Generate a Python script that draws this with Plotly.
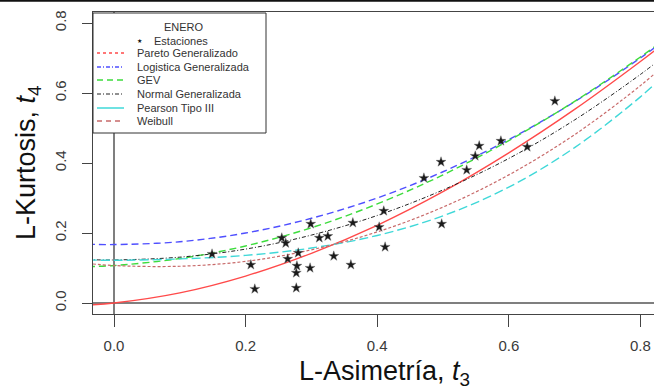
import plotly.graph_objects as go

# ---- data ----
t3_grid = [-0.04, 0.0, 0.1, 0.2, 0.3, 0.4, 0.5, 0.6, 0.7, 0.8, 0.84]
pareto = [-0.006, 0.000, 0.029, 0.077, 0.142, 0.222, 0.318, 0.429, 0.553, 0.690, 0.748]
logistica = [0.168, 0.167, 0.175, 0.200, 0.242, 0.300, 0.375, 0.467, 0.575, 0.700, 0.755]
gev = [0.104, 0.107, 0.127, 0.163, 0.215, 0.283, 0.366, 0.464, 0.576, 0.703, 0.758]
normal = [0.124, 0.123, 0.131, 0.154, 0.194, 0.250, 0.323, 0.413, 0.523, 0.653, 0.711]
pearson = [0.123, 0.122, 0.126, 0.136, 0.157, 0.193, 0.249, 0.331, 0.444, 0.589, 0.658]
weibull = [0.113, 0.107, 0.105, 0.119, 0.152, 0.203, 0.274, 0.366, 0.481, 0.621, 0.686]

est_t3 = [0.149, 0.208, 0.214, 0.255, 0.261, 0.264, 0.280, 0.278, 0.277, 0.277,
          0.299, 0.298, 0.312, 0.325, 0.334, 0.360, 0.363, 0.403, 0.410, 0.412,
          0.471, 0.497, 0.498, 0.536, 0.549, 0.555, 0.588, 0.628, 0.670]
est_t4 = [0.140, 0.109, 0.040, 0.186, 0.171, 0.126, 0.143, 0.106, 0.086, 0.043,
          0.226, 0.100, 0.186, 0.191, 0.134, 0.109, 0.229, 0.217, 0.263, 0.160,
          0.357, 0.403, 0.226, 0.380, 0.420, 0.449, 0.463, 0.446, 0.577]

x_ticks = [0.0, 0.2, 0.4, 0.6, 0.8]
y_ticks = [0.0, 0.2, 0.4, 0.6, 0.8]

legend_title = "ENERO"
legend_names = ["Pareto Generalizado", "Logistica Generalizada", "GEV",
                "Normal Generalizada", "Pearson Tipo III", "Weibull"]

# ---- styles ----
C_RED = "#ff4a4a"
C_BLUE = "#4f4fff"
C_GREEN = "#3ddc3d"
C_BLACK = "#222222"
C_CYAN = "#3fd8d8"
C_BROWN = "#c86a6a"

W, H = 654, 390
L, R, T, B = 93, 654, 12, 314  # plot area in pixels


def px(xp):
    return (xp - L) / (R - L)


def py(yp):
    return (B - yp) / (B - T)


fig = go.Figure()

curves = [
    (pareto, C_RED, "solid", 1.4),
    (logistica, C_BLUE, "7px,4px", 1.4),
    (gev, C_GREEN, "7px,4px", 1.4),
    (normal, C_BLACK, "4px,2px,1px,2px", 1.0),
    (pearson, C_CYAN, "9px,4px", 1.4),
    (weibull, C_BROWN, "3px,2px", 1.2),
]
for vals, col, dash, w in curves:
    fig.add_trace(go.Scatter(x=t3_grid, y=vals, mode="lines",
                             line=dict(color=col, dash=dash, width=w, shape="spline"),
                             showlegend=False, hoverinfo="skip"))

fig.add_trace(go.Scatter(x=est_t3, y=est_t4, mode="markers",
                         marker=dict(symbol="star", size=7.5, color="#1a1a1a",
                                     line=dict(width=0.4, color="#666")),
                         showlegend=False))

shapes = []
# reference lines at 0
shapes.append(dict(type="line", xref="x", yref="paper", x0=0, x1=0, y0=0, y1=1,
                   line=dict(color="#555555", width=1.5), layer="below"))
shapes.append(dict(type="line", xref="paper", yref="y", x0=0, x1=1, y0=0, y1=0,
                   line=dict(color="#555555", width=1.5), layer="below"))
# legend box
shapes.append(dict(type="rect", xref="paper", yref="paper",
                   x0=px(93), x1=px(266), y0=py(133), y1=py(13),
                   fillcolor="white", line=dict(color="#333333", width=1), layer="above"))
# top border of image
shapes.append(dict(type="line", xref="paper", yref="paper", x0=px(0), x1=px(654),
                   y0=py(0.8), y1=py(0.8), line=dict(color="#111111", width=2), layer="above"))

annotations = []
leg_y = [53, 67, 80, 94, 108, 121]
leg_styles = [
    (C_RED, "dot", 1.5),
    (C_BLUE, "4px,2px,1px,2px", 1.5),
    (C_GREEN, "6px,4px", 1.5),
    (C_BLACK, "4px,2px,1px,2px", 1.0),
    (C_CYAN, "solid", 1.5),
    (C_BROWN, "5px,4px", 1.3),
]
LEG_FONT = dict(family="Liberation Sans", size=11, color="#333333")
for name, yy, (col, dash, w) in zip(legend_names, leg_y, leg_styles):
    shapes.append(dict(type="line", xref="paper", yref="paper",
                       x0=px(97), x1=px(124), y0=py(yy), y1=py(yy),
                       line=dict(color=col, dash=dash, width=w), layer="above"))
    annotations.append(dict(xref="paper", yref="paper", x=px(135), y=py(yy),
                            text=name, showarrow=False, xanchor="left", yanchor="middle",
                            font=LEG_FONT))
annotations.append(dict(xref="paper", yref="paper", x=px(184), y=py(27),
                        text=legend_title, showarrow=False, xanchor="center", yanchor="middle",
                        font=LEG_FONT))
annotations.append(dict(xref="paper", yref="paper", x=px(152), y=py(41),
                        text="Estaciones", showarrow=False, xanchor="left", yanchor="middle",
                        font=LEG_FONT))
annotations.append(dict(xref="paper", yref="paper", x=px(139), y=py(40),
                        text="★", showarrow=False, xanchor="center", yanchor="middle",
                        font=dict(family="DejaVu Sans", size=6, color="#111111")))
# axis titles
annotations.append(dict(xref="paper", yref="paper", x=px(384), y=py(373),
                        text="L-Asimetría, <i>t</i><sub>3</sub>", showarrow=False,
                        xanchor="center", yanchor="middle",
                        font=dict(family="Liberation Sans", size=27, color="#111111")))
annotations.append(dict(xref="paper", yref="paper", x=px(28), y=py(163),
                        text="L-Kurtosis, <i>t</i><sub>4</sub>", showarrow=False,
                        xanchor="center", yanchor="middle", textangle=-90,
                        font=dict(family="Liberation Sans", size=27, color="#111111")))

fig.update_layout(
    width=W, height=H,
    margin=dict(l=L, r=W - R, t=T, b=H - B),
    paper_bgcolor="white", plot_bgcolor="white",
    shapes=shapes, annotations=annotations,
    showlegend=False,
    xaxis=dict(range=[(L - 114) / 658, (R - 114) / 658], tickvals=x_ticks,
               ticktext=["%.1f" % v for v in x_ticks],
               showgrid=False, zeroline=False, showline=True, mirror=True,
               linecolor="#444444", linewidth=1.2,
               ticks="outside", ticklen=12, tickwidth=1.2, tickcolor="#444444",
               ticklabelstandoff=6,
               tickfont=dict(family="Liberation Sans", size=15, color="#3a3a3a")),
    yaxis=dict(range=[(303 - B) / 350, (303 - T) / 350], tickvals=y_ticks,
               ticktext=["%.1f" % v for v in y_ticks],
               showgrid=False, zeroline=False, showline=True,
               linecolor="#444444", linewidth=1.2,
               ticks="outside", ticklen=10, tickwidth=1.2, tickcolor="#444444",
               tickangle=-90, ticklabelstandoff=10,
               tickfont=dict(family="Liberation Sans", size=15, color="#3a3a3a")),
)

fig.write_html("out.html")
